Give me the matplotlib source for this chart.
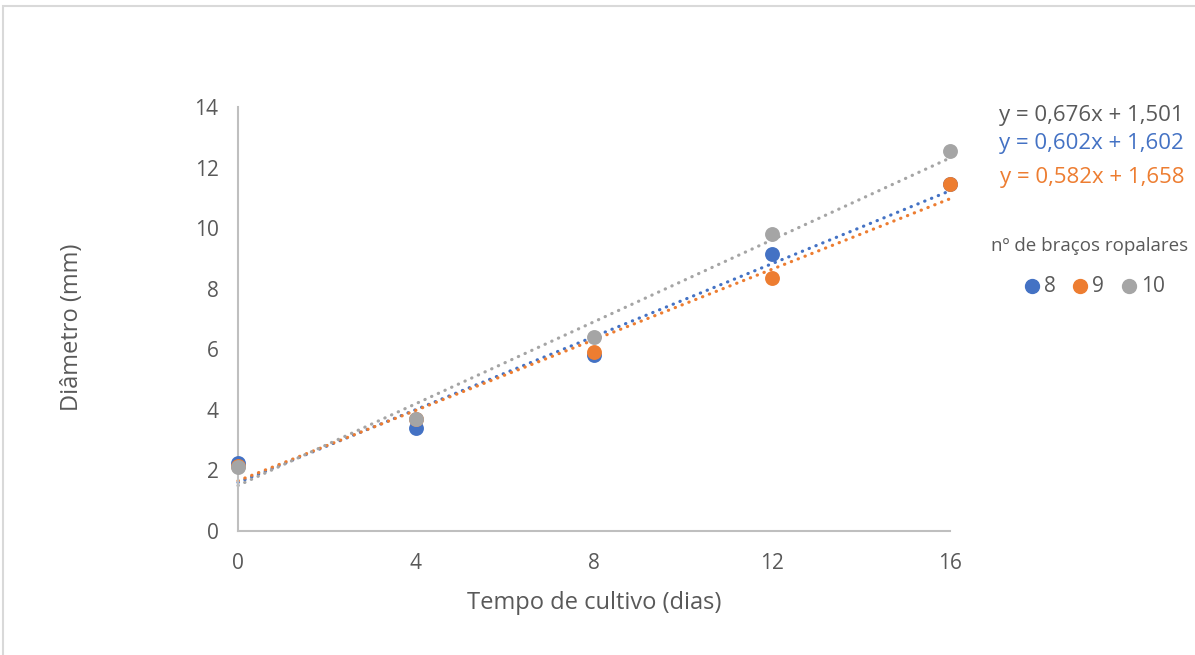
import numpy as np
import matplotlib
matplotlib.use("Agg")
import matplotlib.pyplot as plt
from matplotlib.patches import Rectangle
from matplotlib.lines import Line2D

# Diameter (mm) over culture time (days) by number of rhopalial arms
days = [0, 4, 8, 12, 16]
series_names = ["8", "9", "10"]
diam_8 = [2.25, 3.40, 5.80, 9.15, 11.45]
diam_9 = [2.15, 3.70, 5.90, 8.35, 11.45]
diam_10 = [2.10, 3.70, 6.40, 9.80, 12.55]

# Linear trend coefficients (slope, intercept)
trend_8 = (0.602, 1.602)
trend_9 = (0.582, 1.658)
trend_10 = (0.676, 1.501)
trend_labels = ["y = 0,602x + 1,602", "y = 0,582x + 1,658", "y = 0,676x + 1,501"]

colors = ["#4472C4", "#ED7D31", "#A5A5A5"]
text_gray = "#595959"
axis_gray = "#BFBFBF"

plt.rcParams["font.family"] = ["Open Sans", "DejaVu Sans"]

fig = plt.figure(figsize=(11.95, 6.55), dpi=100)
ax = fig.add_axes([238 / 1195, 1 - 531 / 655, (950 - 238) / 1195, (531 - 107) / 655])

all_series = [diam_8, diam_9, diam_10]
all_trends = [trend_8, trend_9, trend_10]

xs = np.array([days[0], days[-1]], dtype=float)
for (m, b), c in zip(all_trends, colors):
    ax.plot(xs, m * xs + b, color=c, lw=2.3, linestyle=(0, (0.1, 2.2)),
            dash_capstyle="round", zorder=2, clip_on=False)
for vals, c, z in zip(all_series, colors, [3, 4, 5]):
    ax.scatter(days, vals, s=115, color=c, zorder=z, clip_on=False, linewidths=0)

ax.set_xlim(0, 16)
ax.set_ylim(0, 14)
ax.set_xticks(days)
ax.set_yticks(np.arange(0, 15, 2))
for side in ["top", "right"]:
    ax.spines[side].set_visible(False)
for side in ["left", "bottom"]:
    ax.spines[side].set_color(axis_gray)
    ax.spines[side].set_linewidth(1.5)
ax.tick_params(axis="both", length=0, labelsize=15, labelcolor=text_gray)
ax.tick_params(axis="y", pad=14)
ax.tick_params(axis="x", pad=16)

ax.set_xlabel("Tempo de cultivo (dias)", fontsize=17, color=text_gray)
ax.xaxis.set_label_coords(0.5, -(603 - 531) / 424, transform=ax.transAxes)
ax.set_ylabel("Diâmetro (mm)", fontsize=17, color=text_gray)
ax.yaxis.set_label_coords((72 - 238) / 712, (531 - 327) / 424, transform=ax.transAxes)
ax.xaxis.label.set_va("center")
ax.yaxis.label.set_va("center")

# Trend equations at top right
eq_order = [2, 0, 1]
eq_y = [115, 143, 177]
for i, y in zip(eq_order, eq_y):
    fig.text(1184 / 1195, 1 - y / 655, trend_labels[i], ha="right", va="center",
             fontsize=16, color=text_gray if i == 2 else colors[i])

# Legend
fig.text(1090 / 1195, 1 - 246 / 655, "nº de braços ropalares", ha="center", va="center",
         fontsize=13.5, color=text_gray)
leg_x = [1032, 1080, 1129]
for name, c, x in zip(series_names, colors, leg_x):
    fig.add_artist(Line2D([x / 1195], [1 - 286 / 655], marker="o", markersize=10,
                          color=c, linestyle="none", transform=fig.transFigure))
    fig.text((x + 12) / 1195, 1 - 286 / 655, name, ha="left", va="center",
             fontsize=15, color=text_gray)

# Light frame around the chart area
fig.add_artist(Rectangle((3 / 1195, -0.1), 1.2, 1 - 6 / 655 + 0.1, fill=False,
                         edgecolor="#D9D9D9", linewidth=1.5, transform=fig.transFigure))

fig.savefig("out.png", dpi=100)
